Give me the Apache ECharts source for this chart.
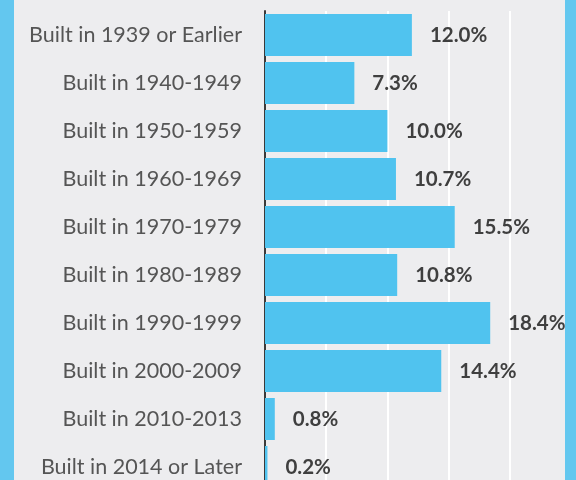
<!DOCTYPE html>
<html>
<head>
<meta charset="utf-8">
<script src="https://cdn.jsdelivr.net/npm/echarts@6/dist/echarts.min.js"></script>
<style>
html,body{margin:0;padding:0;background:#EDEDEF;overflow:hidden;}
#chart{width:576px;height:500px;}
</style>
</head>
<body>
<div id="chart"></div>
<script>
const categories = [
  'Built in 1939 or Earlier',
  'Built in 1940-1949',
  'Built in 1950-1959',
  'Built in 1960-1969',
  'Built in 1970-1979',
  'Built in 1980-1989',
  'Built in 1990-1999',
  'Built in 2000-2009',
  'Built in 2010-2013',
  'Built in 2014 or Later'
];
const shares = [12.0, 7.3, 10.0, 10.7, 15.5, 10.8, 18.4, 14.4, 0.8, 0.2];

const chart = echarts.init(document.getElementById('chart'));
chart.setOption({
  backgroundColor: '#EDEDEF',
  animation: false,
  grid: { left: 265, top: 11, width: 306, height: 480, containLabel: false },
  xAxis: {
    type: 'value', min: 0, max: 25, interval: 5,
    axisLabel: { show: false }, axisTick: { show: false }, axisLine: { show: false },
    splitLine: { show: true, lineStyle: { color: '#FFFFFF', width: 2 } }
  },
  yAxis: {
    type: 'category', data: categories, inverse: true,
    axisTick: { show: false },
    axisLine: { show: true, lineStyle: { color: '#3A3A3A', width: 2 } },
    axisLabel: { margin: 23, color: '#555555', fontFamily: 'Lato', fontSize: 21.5 }
  },
  series: [{
    type: 'bar', data: shares, barWidth: 42, z: 3,
    itemStyle: { color: '#50C3EF' },
    label: {
      show: true, position: 'right', distance: 18,
      formatter: p => p.value.toFixed(1) + '%',
      color: '#3F3F3F', fontFamily: 'Lato', fontWeight: 'bold', fontSize: 20.5
    }
  }],
  graphic: [
    { type: 'rect', left: 0, top: 0, z: 100, shape: { width: 14, height: 500 }, style: { fill: '#63C7EF' } },
    { type: 'rect', left: 565, top: 0, z: 100, shape: { width: 11, height: 500 }, style: { fill: '#63C7EF' } }
  ]
});
</script>
</body>
</html>
